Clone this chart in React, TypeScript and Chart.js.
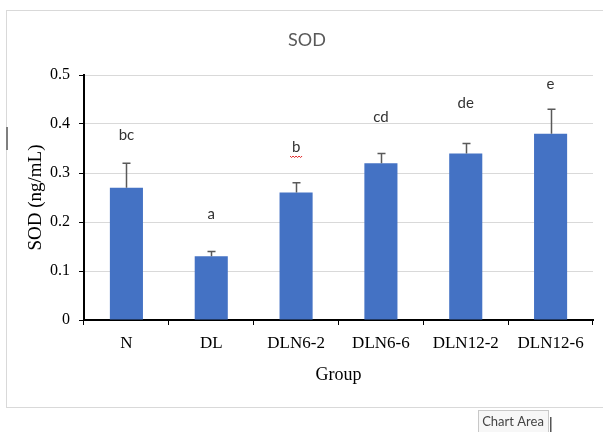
import React, { useEffect, useRef } from "react";
import { Chart, registerables } from "chart.js";

Chart.register(...registerables);

const categories = ["N", "DL", "DLN6-2", "DLN6-6", "DLN12-2", "DLN12-6"];
const means = [0.27, 0.13, 0.26, 0.32, 0.34, 0.38];
const errors = [0.05, 0.01, 0.02, 0.02, 0.02, 0.05];
const letters = ["bc", "a", "b", "cd", "de", "e"];
// vertical position of each significance letter, in axis units
const letterLevels = [0.378, 0.216, 0.353, 0.414, 0.443, 0.482];
const yMin = 0;
const yMax = 0.5;
const yStep = 0.1;
const chartTitle = "SOD";
const yTitle = "SOD (ng/mL)";
const xTitle = "Group";

const decorPlugin = {
  id: "decor",
  beforeDraw(chart: any) {
    const ctx = chart.ctx;
    ctx.save();
    ctx.fillStyle = "#ffffff";
    ctx.fillRect(0, 0, chart.width, chart.height);
    // chart area frame
    ctx.strokeStyle = "#d9d9d9";
    ctx.lineWidth = 1;
    ctx.strokeRect(6.5, 10.5, chart.width + 10, 397);
    // text cursor mark at left
    ctx.fillStyle = "#7f7f7f";
    ctx.fillRect(6, 127, 2, 23);
    ctx.restore();
  },
  afterDatasetsDraw(chart: any) {
    const ctx = chart.ctx;
    const meta = chart.getDatasetMeta(0);
    const yScale = chart.scales.y;
    ctx.save();
    // error bars (upper part)
    ctx.strokeStyle = "#595959";
    ctx.lineWidth = 1.5;
    meta.data.forEach((bar: any, i: number) => {
      const x = Math.round(bar.x) + 0.5;
      const yTop = yScale.getPixelForValue(means[i] + errors[i]);
      const yBar = yScale.getPixelForValue(means[i]);
      ctx.beginPath();
      ctx.moveTo(x, yBar);
      ctx.lineTo(x, yTop);
      ctx.moveTo(x - 4, yTop);
      ctx.lineTo(x + 4, yTop);
      ctx.stroke();
    });
    // significance letters
    ctx.fillStyle = "#333333";
    ctx.font = "15px Lato, 'Open Sans', sans-serif";
    ctx.textAlign = "center";
    ctx.textBaseline = "middle";
    meta.data.forEach((bar: any, i: number) => {
      const y = yScale.getPixelForValue(letterLevels[i]);
      ctx.fillText(letters[i], bar.x, y);
      if (letters[i] === "b") {
        // spell-check squiggle
        ctx.strokeStyle = "#e02020";
        ctx.lineWidth = 1;
        ctx.beginPath();
        const sx = bar.x - 6;
        const sy = y + 9;
        for (let k = 0; k <= 8; k++) {
          const px = sx + k * 1.5;
          const py = sy + (k % 2 === 0 ? 0 : 1.5);
          if (k === 0) ctx.moveTo(px, py);
          else ctx.lineTo(px, py);
        }
        ctx.stroke();
      }
    });
    ctx.restore();
  },
  afterDraw(chart: any) {
    const ctx = chart.ctx;
    ctx.save();
    // "Chart Area" hover label
    ctx.fillStyle = "#f7f7f7";
    ctx.fillRect(478, 410, 70, 24);
    ctx.strokeStyle = "#c8c8c8";
    ctx.lineWidth = 1;
    ctx.strokeRect(478.5, 410.5, 70, 24);
    ctx.fillStyle = "#444444";
    ctx.font = "13px Lato, 'Open Sans', sans-serif";
    ctx.textAlign = "center";
    ctx.textBaseline = "middle";
    ctx.fillText("Chart Area", 513, 422);
    ctx.fillStyle = "#555555";
    ctx.fillRect(550, 417, 1.5, 15);
    ctx.restore();
  },
};

export default function App() {
  const canvasRef = useRef<HTMLCanvasElement | null>(null);

  useEffect(() => {
    const canvas = canvasRef.current;
    if (!canvas) return;
    const chart = new Chart(canvas, {
      type: "bar",
      data: {
        labels: categories,
        datasets: [
          {
            data: means,
            backgroundColor: "#4472C4",
            borderWidth: 0,
            categoryPercentage: 1,
            barPercentage: 0.39,
          },
        ],
      },
      options: {
        responsive: false,
        animation: false,
        devicePixelRatio: 1,
        layout: { padding: { left: 21, right: 10, top: 0, bottom: 0 } },
        plugins: {
          legend: { display: false },
          tooltip: { enabled: false },
          title: {
            display: true,
            text: chartTitle,
            color: "#595959",
            font: { family: "Lato, 'Open Sans', sans-serif", size: 18, weight: "normal", lineHeight: 1.2 },
            padding: { top: 29, bottom: 24.4 },
          },
        },
        scales: {
          x: {
            type: "category",
            afterFit(scale: any) {
              scale.height = 112;
            },
            grid: {
              display: true,
              drawOnChartArea: false,
              drawTicks: true,
              tickLength: 5,
              tickColor: "#000000",
              offset: true,
            },
            border: { display: true, color: "#000000", width: 2 },
            ticks: {
              color: "#000000",
              font: { family: "'Liberation Serif', 'Times New Roman', serif", size: 17 },
              padding: 8,
              autoSkip: false,
              maxRotation: 0,
            },
            title: {
              display: true,
              text: xTitle,
              color: "#000000",
              font: { family: "'Liberation Serif', 'Times New Roman', serif", size: 18, lineHeight: 1.2 },
              padding: { top: 0, bottom: 46 },
            },
          },
          y: {
            type: "linear",
            min: yMin,
            max: yMax,
            afterFit(scale: any) {
              scale.width = 63;
            },
            grid: {
              color: "#d9d9d9",
              lineWidth: 1,
              drawTicks: true,
              tickLength: 5,
              tickColor: "#000000",
            },
            border: { display: true, color: "#000000", width: 2 },
            ticks: {
              stepSize: yStep,
              color: "#000000",
              font: { family: "'Liberation Serif', 'Times New Roman', serif", size: 16 },
              padding: 9,
            },
            title: {
              display: true,
              text: yTitle,
              color: "#000000",
              font: { family: "'Liberation Serif', 'Times New Roman', serif", size: 19, lineHeight: 1.2 },
              padding: { top: 4, bottom: 0 },
            },
          },
        },
      },
      plugins: [decorPlugin],
    } as any);
    return () => chart.destroy();
  }, []);

  return (
    <div style={{ position: "fixed", left: 0, top: 0, width: 603, height: 432 }}>
      <canvas ref={canvasRef} width={603} height={432} style={{ display: "block" }} />
    </div>
  );
}
